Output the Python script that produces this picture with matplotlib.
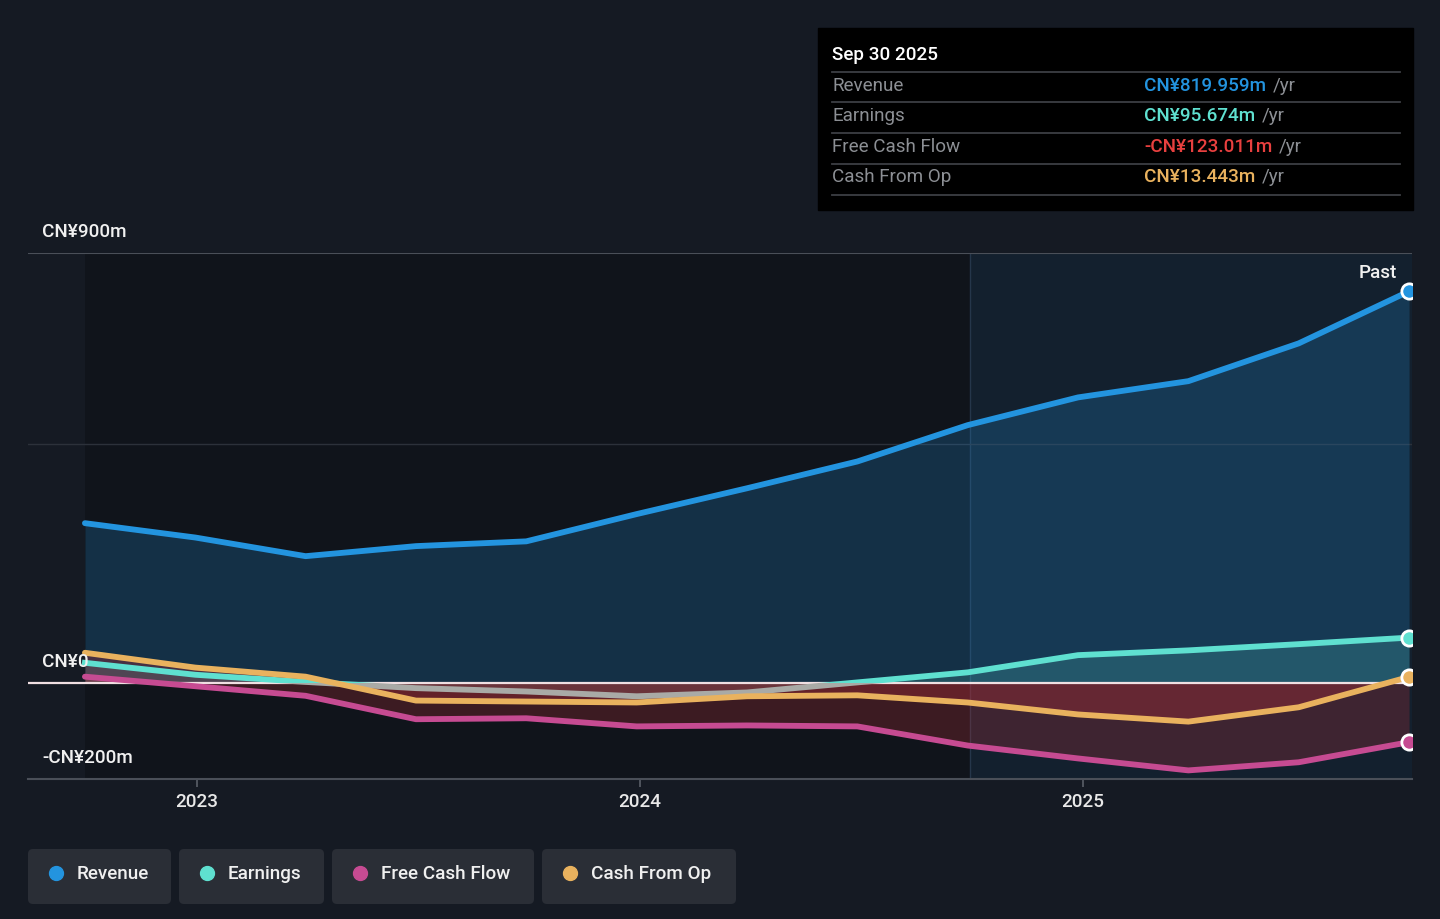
import numpy as np
import matplotlib.pyplot as plt
from matplotlib.patches import Rectangle, FancyBboxPatch

plt.rcParams['font.family'] = ['Roboto', 'DejaVu Sans']
plt.rcParams['font.weight'] = 'medium'

# quarterly trailing values, CN¥ millions (Sep 2022 .. Sep 2025)
quarters = np.linspace(2022.747, 2025.736, 13)
revenue = [335, 305, 266, 287, 297, 354, 408, 464, 540, 598, 632, 711, 819.959]
earnings = [43, 18, 3, -10, -17, -27, -19, 2, 23, 59, 69, 82, 95.674]
free_cash_flow = [14, -6, -26, -75, -73, -90, -88, -90, -130, -157, -182, -165, -123.011]
cash_from_op = [64, 33, 14, -36, -38, -40, -27, -25, -40, -65, -80, -50, 13.443]

year_ticks = [2023, 2024, 2025]
y_labels = ['CN¥900m', 'CN¥0', '-CN¥200m']

BG = '#151a23'
REV_C = '#2394df'
EARN_C = '#5fe0d0'
EARN_NEG_C = '#a9aaa6'
FCF_C = '#c64b92'
CFO_C = '#e9b25e'
FS = 13.6

W, H = 1440, 919
fig = plt.figure(figsize=(W / 100, H / 100), dpi=100, facecolor=BG)

# main plot axes: x 28..1412 px, y 253..779 px
ax = fig.add_axes([28 / W, 1 - 779 / H, 1384 / W, 526 / H])
ax.set_facecolor(BG)
x0 = 2022.6185
x1 = x0 + 1384 / 443
ax.set_xlim(x0, x1)
ax.set_ylim(-200, 900)

# background bands
ax.axvspan(quarters[0], 2024.745, color='#10141b', zorder=0, lw=0)
ax.axvspan(2024.745, x1, color='#13202e', zorder=0, lw=0)
ax.axvline(2024.745, color='#25364a', lw=1, zorder=0.5)

# gridlines
ax.axhline(900, color='#4a4f58', lw=1.5, zorder=1)
ax.axhline(500, color='#2c313a', lw=1, zorder=1)

# area fills
ax.fill_between(quarters, revenue, 0, color=REV_C, alpha=0.22, lw=0, zorder=2)
ax.fill_between(quarters, earnings, 0, color=EARN_C, alpha=0.18, lw=0, zorder=2)
ax.fill_between(quarters, free_cash_flow, 0, color='#c0303a', alpha=0.25, lw=0, zorder=2)
ax.fill_between(quarters, cash_from_op, 0, color='#c0303a', alpha=0.3, lw=0, zorder=2)

# zero line
ax.axhline(0, color='#f0dfe2', lw=1.6, zorder=3)

lw = 4.2
ax.plot(quarters, revenue, color=REV_C, lw=lw, solid_capstyle='round', zorder=5)
ax.plot(quarters, free_cash_flow, color=FCF_C, lw=lw, solid_capstyle='round', zorder=5)
ax.plot(quarters, cash_from_op, color=CFO_C, lw=lw, solid_capstyle='round', zorder=6)

# earnings: teal above zero, grey below
pos_clip = Rectangle((x0, 0), x1 - x0, 1000, transform=ax.transData)
neg_clip = Rectangle((x0, -300), x1 - x0, 300, transform=ax.transData)
l1, = ax.plot(quarters, earnings, color=EARN_C, lw=lw, zorder=5.5)
l1.set_clip_path(pos_clip)
l2, = ax.plot(quarters, earnings, color=EARN_NEG_C, lw=lw, zorder=5.5)
l2.set_clip_path(neg_clip)

# end markers
for series, c in [(revenue, REV_C), (earnings, EARN_C), (free_cash_flow, FCF_C), (cash_from_op, CFO_C)]:
    ax.plot(quarters[-1], series[-1], 'o', ms=11, mfc=c, mec='white', mew=2, zorder=8)

ax.set_xticks(year_ticks)
ax.set_xticklabels([str(y) for y in year_ticks])
ax.tick_params(axis='x', colors='#5a5f68', length=6, width=1.2, labelcolor='#e8e8e8',
               labelsize=FS, pad=4)
ax.set_yticks([])
for s in ['top', 'left', 'right']:
    ax.spines[s].set_visible(False)
ax.spines['bottom'].set_color('#4a4f58')
ax.spines['bottom'].set_linewidth(1.5)

# overlay in pixel coordinates for labels, tooltip and legend
ov = fig.add_axes([0, 0, 1, 1])
ov.set_xlim(0, W)
ov.set_ylim(H, 0)
ov.axis('off')

for lab, yy in zip(y_labels, [232, 662, 758]):
    ov.text(42, yy, lab, color='#f0f0f0', fontsize=FS, va='center', ha='left')
ov.text(1397, 273, 'Past', color='#f0f0f0', fontsize=FS, va='center', ha='right')

# tooltip
ov.add_patch(Rectangle((818, 28), 595, 182, color='#000000', zorder=1))
ov.text(832, 55, 'Sep 30 2025', color='white', fontsize=FS, va='center', ha='left', zorder=2)
for yy in [72, 102, 133, 164, 195]:
    ov.plot([832, 1400], [yy, yy], color='#3c3f44', lw=1.3, zorder=2)
rows = [('Revenue', 'CN¥819.959m', REV_C, 86),
        ('Earnings', 'CN¥95.674m', EARN_C, 116),
        ('Free Cash Flow', '-CN¥123.011m', '#e8403f', 147),
        ('Cash From Op', 'CN¥13.443m', CFO_C, 177)]
fig.canvas.draw()
for name, val, c, yy in rows:
    ov.text(832, yy, name, color='#8c8f94', fontsize=FS, fontweight='normal', va='center',
            ha='left', zorder=2)
    t = ov.text(1144, yy, val, color=c, fontsize=FS, va='center', ha='left', zorder=2)
    bb = t.get_window_extent(renderer=fig.canvas.get_renderer())
    ov.text(1144 + bb.width + 7, yy, '/yr', color='#8c8f94', fontsize=FS, fontweight='normal',
            va='center', ha='left', zorder=2)

# legend chips
legend = [('Revenue', REV_C, 28, 171), ('Earnings', EARN_C, 179, 324),
          ('Free Cash Flow', FCF_C, 332, 534), ('Cash From Op', CFO_C, 542, 736)]
for name, c, xa, xb in legend:
    ov.add_patch(FancyBboxPatch((xa, 849), xb - xa, 55, boxstyle='round,pad=0,rounding_size=5',
                                fc='#2a2e36', ec='none'))
    ov.plot(xa + 28, 873, 'o', ms=10, color=c)
    ov.text(xa + 49, 874, name, color='#f0f0f0', fontsize=FS, va='center', ha='left')

fig.savefig('out.png', dpi=100, facecolor=BG)
